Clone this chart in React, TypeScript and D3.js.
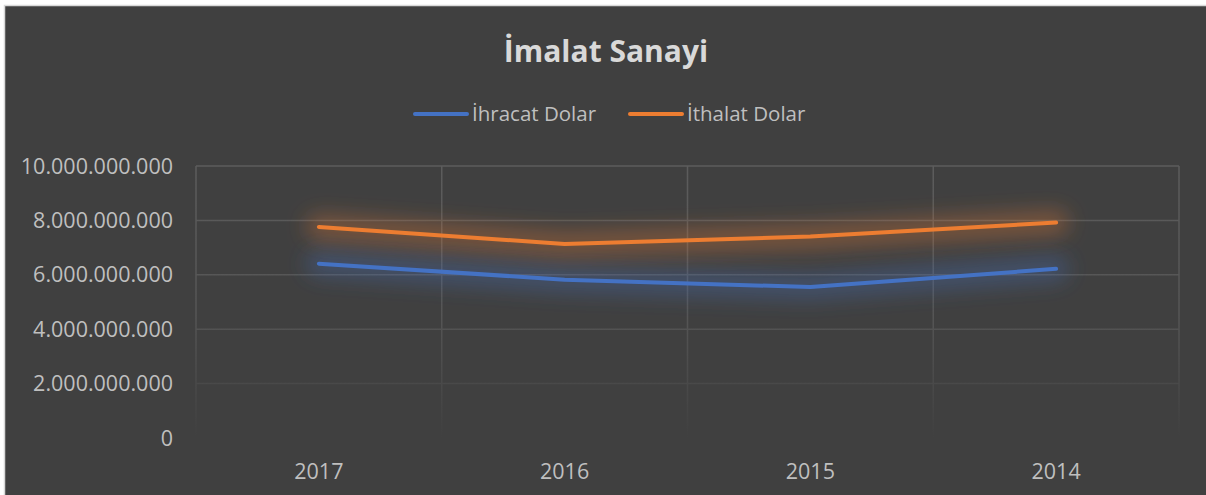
import React from "react";
import * as d3 from "d3";

const categories = ["2017", "2016", "2015", "2014"];
const ihracat = [6410000000, 5820000000, 5550000000, 6220000000];
const ithalat = [7760000000, 7130000000, 7410000000, 7920000000];
const yTicks = [0, 2000000000, 4000000000, 6000000000, 8000000000, 10000000000];
const seriesNames = ["İhracat Dolar", "İthalat Dolar"];
const seriesColors = ["#4472c4", "#ed7d31"];

const W = 1206;
const H = 495;
const plot = { left: 196, right: 1179, top: 166, bottom: 438 };
const FONT = "'Open Sans', sans-serif";

const fmt = (v: number) =>
  v === 0 ? "0" : d3.format(",")(v).replace(/,/g, ".");

export default function App() {
  const x = d3
    .scaleBand<string>()
    .domain(categories)
    .range([plot.left, plot.right]);
  const y = d3.scaleLinear().domain([0, 10000000000]).range([plot.bottom, plot.top]);
  const line = d3
    .line<number>()
    .x((_, i) => (x(categories[i]) as number) + x.bandwidth() / 2)
    .y((d) => y(d));
  const series = [ihracat, ithalat];
  const boundaries = categories.map((c) => x(c) as number).concat([plot.right]);

  return (
    <div style={{ position: "absolute", left: 0, top: 0 }}>
      <svg width={W} height={H} style={{ display: "block" }}>
        <defs>
          <linearGradient id="gridFade" gradientUnits="userSpaceOnUse" x1="0" y1={plot.top} x2="0" y2={plot.bottom}>
            <stop offset="0" stopColor="#5c5c5c" />
            <stop offset="0.55" stopColor="#555555" />
            <stop offset="1" stopColor="#404040" />
          </linearGradient>
          <filter id="glow" x="-20%" y="-150%" width="140%" height="400%">
            <feGaussianBlur stdDeviation="10" />
          </filter>
        </defs>
        <rect x={0} y={0} width={W} height={H} fill="#ffffff" />
        <rect x={4.5} y={5.5} width={W} height={H} fill="#404040" stroke="#d9d9d9" strokeWidth={1.5} />

        <text x={606} y={62} textAnchor="middle" fill="#d9d9d9" fontFamily={FONT} fontWeight={700} fontSize={30}>
          İmalat Sanayi
        </text>

        {/* legend */}
        {seriesNames.map((n, i) => {
          const lx = [415, 630][i];
          return (
            <g key={n}>
              <line x1={lx} x2={lx + 52} y1={114} y2={114} stroke={seriesColors[i]} strokeWidth={4} strokeLinecap="round" />
              <text x={lx + 57} y={114} dy="0.35em" fill="#bfbfbf" fontFamily={FONT} fontSize={20.5}>
                {n}
              </text>
            </g>
          );
        })}

        {/* grid */}
        {yTicks.filter((t) => t > 0).map((t) => (
          <line key={t} x1={plot.left} x2={plot.right} y1={y(t)} y2={y(t)} stroke="url(#gridFade)" strokeWidth={1.5} />
        ))}
        {boundaries.map((bx, i) => (
          <line key={i} x1={bx} x2={bx} y1={plot.top} y2={plot.bottom} stroke="url(#gridFade)" strokeWidth={1.5} />
        ))}

        {/* y labels */}
        {yTicks.map((t) => (
          <text key={t} x={173} y={y(t)} dy="0.35em" textAnchor="end" fill="#bfbfbf" fontFamily={FONT} fontSize={21.5}>
            {fmt(t)}
          </text>
        ))}

        {/* x labels */}
        {categories.map((c) => (
          <text key={c} x={(x(c) as number) + x.bandwidth() / 2} y={471} dy="0.35em" textAnchor="middle" fill="#bfbfbf" fontFamily={FONT} fontSize={21.5}>
            {c}
          </text>
        ))}

        {/* glow */}
        {series.map((s, i) => (
          <path key={"g" + i} d={line(s) as string} fill="none" stroke={seriesColors[i]} strokeOpacity={0.32} strokeWidth={26} strokeLinecap="round" strokeLinejoin="round" filter="url(#glow)" />
        ))}
        {series.map((s, i) => (
          <path key={"l" + i} d={line(s) as string} fill="none" stroke={seriesColors[i]} strokeWidth={4} strokeLinecap="round" strokeLinejoin="round" />
        ))}
      </svg>
    </div>
  );
}
